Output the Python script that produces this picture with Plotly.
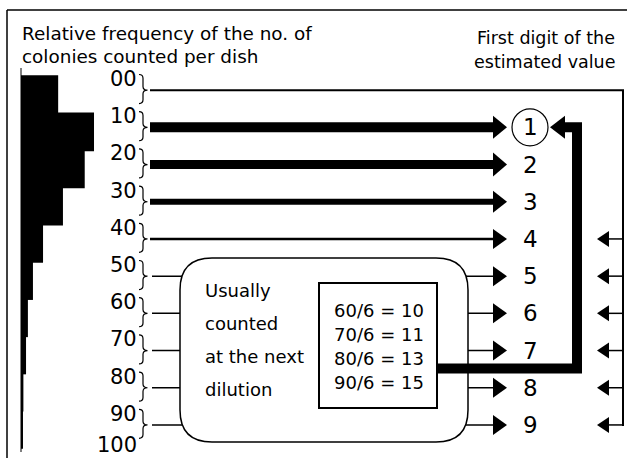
import plotly.graph_objects as go

# ---------------- data ----------------
bin_starts = [0, 10, 20, 30, 40, 50, 60, 70, 80, 90]
rel_freq = [14.0, 27.5, 24.0, 15.8, 8.3, 4.5, 2.6, 1.9, 0.9, 0.75]
count_labels = ["00", "10", "20", "30", "40", "50", "60", "70", "80", "90", "100"]
label_values = [0, 10, 20, 30, 40, 50, 60, 70, 80, 90, 100]
first_digits = ["1", "2", "3", "4", "5", "6", "7", "8", "9"]
next_dilution_counts = [60, 70, 80, 90]
dilution_divisor = 6
next_dilution_results = [10, 11, 13, 15]
title_left = ["Relative frequency of the no. of", "colonies counted per dish"]
title_right = ["First digit of the", "estimated value"]
box_text = ["Usually", "counted", "at the next", "dilution"]

# ---------------- styles / geometry ----------------
W, H = 627, 458
Y0_PX = 76.0          # pixel row of count 0
PX_PER_UNIT = 3.72    # pixels per colony count
FONT = "DejaVu Sans"
ARROW_WIDTHS = [2, 10, 9, 6, 2.5, 1.5, 1.5, 1.5, 1.5, 1.5]
HEAD_HALF = [0, 11.5, 12, 11, 10, 10, 10, 10, 10, 10]
HIST_PX_PER_PCT = 2.655


def v(py):
    return (py - Y0_PX) / PX_PER_UNIT


def dv(dpx):
    return dpx / PX_PER_UNIT


row_v = [b + 3.8 for b in bin_starts]

shapes = []
annotations = []


def line(x0, y0, x1, y1, w=1.5):
    shapes.append(dict(type="line", xref="x", yref="y", x0=x0, y0=y0, x1=x1, y1=y1,
                       line=dict(color="black", width=w)))


def path(d, w=1.5, fill=None):
    s = dict(type="path", xref="x", yref="y", path=d,
             line=dict(color="black", width=w))
    if fill:
        s["fillcolor"] = fill
    shapes.append(s)


def head(tip, yv, length, half, direction=1):
    base = tip - direction * length
    path(f"M {tip},{yv} L {base},{yv - dv(half)} L {base},{yv + dv(half)} Z", w=0, fill="black")


def text(x, yv, s, size, anchor="left", yshift=0):
    annotations.append(dict(x=x, y=yv, xref="x", yref="y", text=s, showarrow=False,
                            xanchor=anchor, yanchor="middle", yshift=yshift,
                            font=dict(family=FONT, size=size, color="black")))


# frame
line(7, v(10), W, v(10), 1.5)
line(7, v(10), 7, v(H), 1.5)
# histogram axis stub
line(21, v(68), 21, v(452), 1)

# braces
for rv in row_v:
    yt, yb, d = rv - 4.2, rv + 3.6, 1.0
    path(f"M 139,{yt} Q 143,{yt} 143,{yt + d} L 143,{rv - d} Q 143,{rv} 147.5,{rv} "
         f"Q 143,{rv} 143,{rv + d} L 143,{yb - d} Q 143,{yb} 139,{yb}", w=1.2)

# row 0 : line to the right frame and down
path(f"M 150,{row_v[0]} L 623,{row_v[0]} L 623,{row_v[9] + dv(1)}", w=ARROW_WIDTHS[0])

# rows 1-4 : direct arrows
for i in range(1, 5):
    line(150, row_v[i], 494, row_v[i], ARROW_WIDTHS[i])
    head(507, row_v[i], 14, HEAD_HALF[i])

# rows 5-9 : through the rounded box
for i in range(5, 10):
    line(152, row_v[i], 300, row_v[i], ARROW_WIDTHS[i])
    line(400, row_v[i], 494, row_v[i], ARROW_WIDTHS[i])
    head(507, row_v[i], 14, HEAD_HALF[i])

# small returning arrows on the right
for i in range(4, 10):
    line(623, row_v[i], 609, row_v[i], 1.5)
    head(597, row_v[i], 12, 8, direction=-1)

# rounded box (white fill hides the shafts inside)
bx0, bx1, by0, by1, r = 180, 468, 258, 442, 32
path(f"M {bx0 + r},{v(by0)} L {bx1 - r},{v(by0)} Q {bx1},{v(by0)} {bx1},{v(by0 + r)} "
     f"L {bx1},{v(by1 - r)} Q {bx1},{v(by1)} {bx1 - r},{v(by1)} "
     f"L {bx0 + r},{v(by1)} Q {bx0},{v(by1)} {bx0},{v(by1 - r)} "
     f"L {bx0},{v(by0 + r)} Q {bx0},{v(by0)} {bx0 + r},{v(by0)} Z", w=1.5, fill="white")

# inner rectangle
shapes.append(dict(type="rect", xref="x", yref="y", x0=319, x1=437, y0=v(283), y1=v(408),
                   line=dict(color="black", width=2), fillcolor="white"))

# thick return arrow to "1"
path(f"M 437,{v(368.5)} L 577,{v(368.5)} L 577,{row_v[1]} L 565,{row_v[1]}", w=10)
head(550, row_v[1], 15, 11.5, direction=-1)

# circle around 1
shapes.append(dict(type="circle", xref="x", yref="y", x0=512, x1=548,
                   y0=row_v[1] - dv(18.5), y1=row_v[1] + dv(18.5),
                   line=dict(color="black", width=1.2)))

# texts
text(20, v(33), title_left[0], 18.4)
text(20, v(56), title_left[1], 18.4)
text(617, v(38), title_right[0], 17.5, anchor="right")
text(617, v(62), title_right[1], 17.5, anchor="right")

for lab, val in zip(count_labels, label_values):
    shift = 6 if val == label_values[-1] else 0
    text(139, val + 0.8, lab, 21, anchor="right", yshift=shift)

for i, dgt in enumerate(first_digits, start=1):
    text(530, row_v[i], dgt, 23, anchor="center")

for k, s in enumerate(box_text):
    text(203, v(290 + 33.3 * k), s, 18)

for k, (n, res) in enumerate(zip(next_dilution_counts, next_dilution_results)):
    text(332, v(310 + 24 * k), f"{n}/{dilution_divisor} = {res}", 18)

fig = go.Figure()
fig.add_trace(go.Bar(x=rel_freq, y=[b + 5 for b in bin_starts], orientation="h", width=10.4,
                     marker=dict(color="black", line=dict(width=0)),
                     xaxis="x2", yaxis="y", hoverinfo="skip", showlegend=False))
fig.add_trace(go.Scatter(x=[0], y=[0], mode="markers", marker=dict(opacity=0),
                         xaxis="x", yaxis="y", hoverinfo="skip", showlegend=False))

fig.update_layout(
    width=W, height=H, margin=dict(l=0, r=0, t=0, b=0),
    paper_bgcolor="white", plot_bgcolor="white",
    xaxis=dict(range=[0, W], domain=[0, 1], visible=False, fixedrange=True),
    xaxis2=dict(range=[0, 100 / HIST_PX_PER_PCT], domain=[21 / W, 121 / W], anchor="y",
                visible=False, fixedrange=True),
    yaxis=dict(range=[v(H), v(0)], domain=[0, 1], visible=False, fixedrange=True),
    shapes=shapes, annotations=annotations, showlegend=False,
)
fig.write_html("out.html", config={"displayModeBar": False, "staticPlot": True},
               post_script="document.body.style.margin='0px';document.body.style.padding='0px';")
